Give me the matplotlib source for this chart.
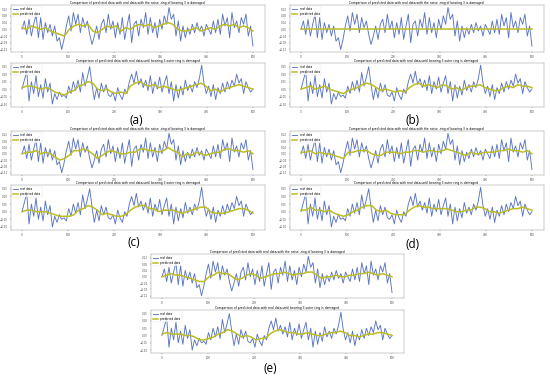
import numpy as np
import matplotlib
matplotlib.use("Agg")
import matplotlib.pyplot as plt

# real signal, upper subplot of every panel (one value every 5 samples)
real_top = [0.00, 0.05, -0.03, 0.06, -0.04, 0.03,
            0.09, -0.05, 0.07, -0.06, 0.04, -0.02,
            0.03, -0.04, 0.02, -0.07, -0.05, -0.12, -0.06,
            0.02, 0.08, -0.01, 0.10, 0.03, 0.09, -0.02, 0.07, 0.01, 0.05,
            -0.03, -0.09, -0.04, 0.02, -0.06, 0.03,
            0.06, -0.02, 0.09, 0.00, 0.05, -0.05, 0.04,
            -0.03, 0.07, -0.06, 0.02, 0.09, -0.08, 0.03,
            0.05, -0.04, 0.06, 0.01, 0.10, -0.03, 0.07,
            -0.02, 0.04, -0.05, 0.06, 0.00, 0.08, 0.03, 0.13,
            0.06, 0.09, -0.04, 0.05, -0.07, 0.02, -0.05, 0.01, -0.03,
            0.03, -0.02, 0.04, -0.01, 0.02, -0.04, 0.03, 0.00, -0.03, 0.05, -0.02,
            0.06, -0.03, 0.09, 0.02, 0.07, -0.05, 0.10, 0.01, 0.05,
            -0.02, 0.07, 0.03, 0.09, -0.04, 0.02, -0.10]

# real signal, lower subplot of every panel
real_bot = [0.00, 0.06, 0.12, -0.08, 0.05,
            -0.03, 0.09, -0.05, 0.03, -0.06, 0.07, -0.02, 0.04,
            -0.10, -0.03, -0.07, -0.02, -0.05, -0.04, -0.06,
            0.02, -0.03, 0.05, -0.01,
            0.06, -0.02, 0.11, 0.02, 0.08, 0.15, 0.03,
            -0.07, 0.01, -0.06, 0.04, -0.02, 0.03, -0.04,
            -0.05, -0.02, -0.08, 0.01, -0.04, -0.07, 0.00, -0.03,
            0.05, 0.10, 0.04, 0.12, 0.03, 0.07, 0.01,
            0.06, -0.01, 0.09, -0.03, 0.05, 0.00, 0.08, -0.02,
            0.04, 0.09, -0.03, 0.05, -0.08, 0.03, -0.06, 0.02, -0.04, 0.06, -0.01,
            0.03, -0.02, 0.05, 0.01, 0.07, 0.16, 0.04, -0.03,
            0.02, -0.05, 0.03, -0.07, 0.01, -0.03, 0.04, -0.02, 0.05, 0.00,
            0.06, 0.02, 0.10, 0.04, 0.07, -0.03, 0.05, 0.01, -0.02, 0.00]

# predicted signals (one value every 10 samples)
pred_a_top = [0.01, 0.00, 0.02, 0.01, 0.00, 0.01, -0.01, -0.02, -0.03, -0.04,
              0.00, 0.02, 0.03, 0.02, 0.03, -0.01, -0.02, 0.00, 0.02, 0.01,
              0.02, -0.01, 0.01, 0.00, 0.02, 0.03, 0.02, 0.03, 0.01, 0.02,
              0.03, 0.04, 0.03, 0.00, -0.01, -0.01, 0.00, 0.01, -0.01, 0.00,
              0.01, 0.00, 0.02, 0.03, 0.02, 0.03, 0.01, 0.02, 0.01, -0.01]
pred_a_bot = [0.01, 0.02, 0.02, 0.01, 0.00, 0.01, 0.00, -0.02, -0.03, -0.04,
              -0.02, -0.01, 0.02, 0.03, 0.05, 0.04, 0.00, -0.01, 0.00, -0.02,
              -0.03, -0.02, -0.03, 0.02, 0.04, 0.05, 0.03, 0.02, 0.03, 0.01,
              0.02, 0.01, 0.00, -0.01, 0.00, 0.01, 0.02, 0.03, 0.04, 0.02,
              -0.01, 0.00, -0.02, 0.00, 0.01, 0.02, 0.03, 0.02, 0.01, 0.00]
pred_b_top = [0.002, 0.002]
pred_b_bot = [0.00, 0.01, 0.02, 0.00, 0.01, 0.02, 0.00, -0.01, -0.02, -0.03,
              -0.01, 0.00, 0.01, 0.03, 0.04, 0.03, 0.01, -0.01, 0.00, -0.01,
              -0.02, -0.01, -0.02, 0.01, 0.03, 0.04, 0.02, 0.03, 0.02, 0.01,
              0.03, 0.02, 0.00, 0.01, -0.01, 0.01, 0.02, 0.02, 0.03, 0.01,
              0.00, -0.01, -0.01, 0.01, 0.02, 0.01, 0.03, 0.02, 0.02, 0.01]
pred_c_top = [0.00, 0.01, 0.01, 0.02, 0.00, 0.01, 0.00, -0.02, -0.04, -0.03,
              -0.01, 0.02, 0.02, 0.03, 0.02, 0.00, -0.03, -0.01, 0.01, 0.02,
              0.01, 0.00, 0.00, 0.01, 0.01, 0.03, 0.03, 0.02, 0.02, 0.01,
              0.02, 0.04, 0.02, 0.01, -0.02, 0.00, -0.01, 0.01, 0.00, -0.01,
              0.00, 0.01, 0.01, 0.03, 0.03, 0.02, 0.02, 0.01, 0.02, 0.00]
pred_c_bot = [0.00, 0.01, 0.01, 0.00, 0.00, 0.00, -0.01, -0.02, -0.03, -0.03,
              -0.03, -0.02, 0.01, 0.02, 0.04, 0.03, 0.01, -0.02, -0.01, -0.02,
              -0.03, -0.03, -0.02, 0.01, 0.03, 0.04, 0.04, 0.02, 0.02, 0.00,
              0.01, 0.01, 0.01, 0.00, -0.01, 0.00, 0.01, 0.02, 0.03, 0.03,
              0.00, -0.01, -0.01, -0.01, 0.00, 0.01, 0.02, 0.02, 0.01, -0.01]
pred_d_top = [0.01, 0.01, 0.02, 0.00, 0.01, 0.00, 0.00, -0.01, -0.02, -0.03,
              0.01, 0.01, 0.02, 0.02, 0.02, 0.00, -0.01, -0.01, 0.01, 0.01,
              0.01, 0.00, 0.01, 0.01, 0.02, 0.02, 0.01, 0.02, 0.02, 0.01,
              0.02, 0.03, 0.02, 0.01, 0.00, -0.01, 0.01, 0.00, 0.00, 0.01,
              0.01, 0.01, 0.02, 0.02, 0.03, 0.02, 0.02, 0.01, 0.02, 0.00]
pred_d_bot = [0.01, 0.01, 0.03, 0.01, 0.01, 0.00, 0.01, -0.01, -0.02, -0.03,
              -0.02, 0.00, 0.01, 0.03, 0.04, 0.04, 0.01, 0.00, 0.01, -0.01,
              -0.02, -0.02, -0.02, 0.01, 0.03, 0.04, 0.03, 0.03, 0.02, 0.02,
              0.02, 0.02, 0.01, 0.00, 0.00, 0.01, 0.01, 0.03, 0.03, 0.02,
              0.00, 0.00, -0.01, 0.00, 0.01, 0.02, 0.02, 0.03, 0.02, 0.01]
pred_e_top = [0.00, 0.01, 0.02, 0.01, 0.01, 0.00, -0.01, -0.02, -0.03, -0.03,
              0.00, 0.01, 0.03, 0.02, 0.02, 0.00, -0.02, -0.01, 0.01, 0.02,
              0.01, -0.01, 0.00, 0.01, 0.02, 0.02, 0.03, 0.02, 0.01, 0.02,
              0.02, 0.03, 0.03, 0.01, -0.01, 0.00, 0.00, 0.01, 0.00, 0.00,
              0.01, 0.01, 0.02, 0.02, 0.03, 0.02, 0.01, 0.02, 0.01, 0.00]
pred_e_bot = [0.01, 0.02, 0.01, 0.01, 0.01, 0.00, 0.00, -0.01, -0.03, -0.03,
              -0.02, -0.01, 0.01, 0.02, 0.04, 0.03, 0.01, -0.01, 0.00, -0.01,
              -0.03, -0.02, -0.02, 0.01, 0.03, 0.04, 0.03, 0.02, 0.02, 0.01,
              0.01, 0.02, 0.01, 0.00, 0.00, 0.01, 0.02, 0.02, 0.03, 0.02,
              0.00, 0.00, -0.01, 0.00, 0.01, 0.01, 0.02, 0.02, 0.01, 0.00]

panel_labels = ["(a)", "(b)", "(c)", "(d)", "(e)"]
titles = ["Comparison of predicted data with real data,with the noise ,ring of bearing 3 is damaged",
          "Comparison of predicted data with real data,until bearing 3 outer ring is damaged"]
legend_labels = ["real data", "predicted data"]
xticks = [0, 100, 200, 300, 400, 500]
yticks_top = [-0.12, -0.08, -0.04, 0.00, 0.04, 0.08, 0.12]
yticks_bot = [-0.10, -0.05, 0.00, 0.05, 0.10, 0.15]

preds = {"(a)": (pred_a_top, pred_a_bot), "(b)": (pred_b_top, pred_b_bot),
         "(c)": (pred_c_top, pred_c_bot), "(d)": (pred_d_top, pred_d_bot),
         "(e)": (pred_e_top, pred_e_bot)}

# layout in pixels: left, right, (top, bottom) of the two subplots, label position
layout = {"(a)": (10.5, 264.5, (5, 52), (63, 107), (136, 121)),
          "(b)": (289.5, 543.5, (5, 52), (63, 107), (413, 121)),
          "(c)": (10.5, 264.5, (131, 175), (185, 230), (134, 243)),
          "(d)": (289.5, 543.5, (131, 175), (185, 230), (413, 244)),
          "(e)": (150.5, 403.5, (254, 298), (310, 353), (270, 369))}

W, H = 550, 376
fig = plt.figure(figsize=(W / 100, H / 100), dpi=100)

real_col = "#5b74c4"
pred_col = "#bcbd22"

for lab in panel_labels:
    x0, x1, top_ext, bot_ext, lab_pos = layout[lab]
    for k, (yt, yb) in enumerate([top_ext, bot_ext]):
        ax = fig.add_axes([x0 / W, 1 - yb / H, (x1 - x0) / W, (yb - yt) / H])
        real = real_top if k == 0 else real_bot
        pred = preds[lab][k]
        ax.plot(np.linspace(0, 500, len(real)), real, color=real_col, lw=0.65,
                label=legend_labels[0])
        ax.plot(np.linspace(0, 500, len(pred)), pred, color=pred_col, lw=1.1,
                label=legend_labels[1])
        ax.set_xticks(xticks)
        if k == 0:
            ax.set_ylim(-0.135, 0.145)
            ax.set_yticks(yticks_top)
        else:
            ax.set_ylim(-0.12, 0.175)
            ax.set_yticks(yticks_bot)
        ax.tick_params(labelsize=2, length=1, width=0.3, pad=1, colors="#555555")
        for s in ax.spines.values():
            s.set_linewidth(0.3)
            s.set_color("#888888")
        ax.set_title(titles[k], fontsize=2.2, pad=1)
        ax.legend(loc="upper left", fontsize=2, frameon=True, handlelength=2,
                  borderpad=0.3, labelspacing=0.2).get_frame().set_linewidth(0.2)
    fig.text(lab_pos[0] / W, 1 - lab_pos[1] / H, lab, fontsize=8.5,
             family="Open Sans", ha="center", va="center")

fig.savefig("out.png", dpi=100)
